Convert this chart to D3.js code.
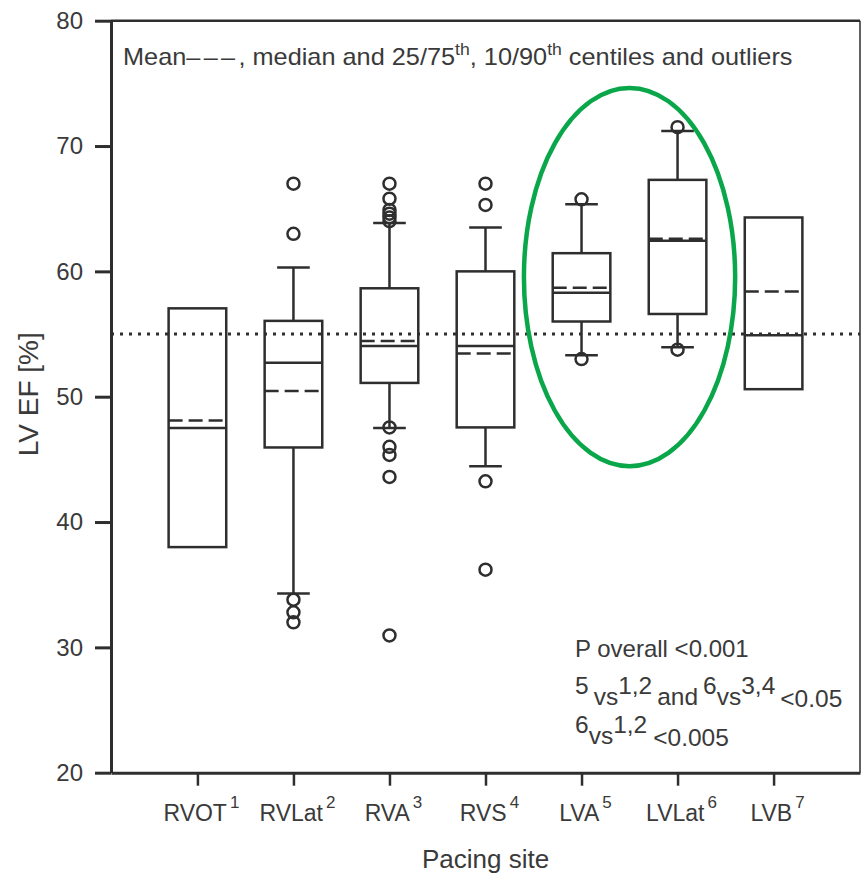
<!DOCTYPE html>
<html>
<head>
<meta charset="utf-8">
<script src="https://cdn.jsdelivr.net/npm/d3@7"></script>
<style>
  html, body { margin: 0; padding: 0; background: #fff; }
  svg { display: block; font-family: "Liberation Sans", Arial, Helvetica, sans-serif; }
</style>
</head>
<body>
<svg id="chart" width="862" height="880"></svg>
<script>
// ---- data ----
const sites    = ["RVOT", "RVLat", "RVA", "RVS", "LVA", "LVLat", "LVB"];
const siteSup  = ["1", "2", "3", "4", "5", "6", "7"];
const q1       = [38.0, 45.95, 51.1, 47.55, 56.0, 56.6, 50.6];
const q3       = [57.05, 56.05, 58.65, 60.0, 61.45, 67.3, 64.3];
const medians  = [47.5, 52.7, 54.05, 54.05, 58.3, 62.45, 54.9];
const means    = [48.1, 50.45, 54.45, 53.45, 58.7, 62.6, 58.4];
const p10      = [null, 34.3, 47.5, 44.45, 53.3, 53.95, null];
const p90      = [null, 60.3, 63.85, 63.5, 65.35, 71.2, null];
const outliers = [
  [],
  [67.0, 63.0, 33.8, 32.8, 32.0],
  [67.0, 65.8, 64.9, 64.6, 64.3, 64.0, 47.55, 46.0, 45.35, 43.6, 30.95],
  [67.0, 65.3, 43.25, 36.2],
  [65.75, 53.0],
  [71.5, 53.75],
  []
];
const yTicks   = [20, 30, 40, 50, 60, 70, 80];
const refLine  = 55;
const highlight = { from: "LVA", to: "LVLat", top: 74.63, bottom: 44.46 };

// ---- layout ----
const L = 111, R = 860, T = 20.7, B = 772.7;
const ink = "#2e2e2e", txt = "#3a3a3a";
const svg = d3.select("#chart");

const x = d3.scalePoint().domain(sites).range([L, R]).padding(0.9);
const y = d3.scaleLinear().domain([20, 80]).range([B, T]);
const step = x.step();
const boxW = step * 0.6, capW = step * 0.34;

// frame: top and right
svg.append("line").attr("x1", L).attr("x2", R).attr("y1", y(80)).attr("y2", y(80))
  .attr("stroke", ink).attr("stroke-width", 2.5);
svg.append("line").attr("x1", R).attr("x2", R).attr("y1", y(80)).attr("y2", y(20))
  .attr("stroke", ink).attr("stroke-width", 1.5);

// y axis
const gy = svg.append("g").attr("transform", `translate(${L},0)`)
  .call(d3.axisLeft(y).tickValues(yTicks).tickSize(16).tickSizeOuter(0).tickPadding(12));
gy.select(".domain").attr("stroke", ink).attr("stroke-width", 3);
gy.selectAll(".tick line").attr("stroke", ink).attr("stroke-width", 3);
gy.selectAll(".tick text").attr("font-size", 24).attr("fill", txt)
  .attr("font-family", "Liberation Sans, Arial, sans-serif");

// x axis
const gx = svg.append("g").attr("transform", `translate(0,${B})`)
  .call(d3.axisBottom(x).tickSize(13).tickSizeOuter(0).tickFormat(""));
gx.select(".domain").attr("stroke", ink).attr("stroke-width", 3);
gx.selectAll(".tick line").attr("stroke", ink).attr("stroke-width", 2.5);

// x tick labels with superscripts
const xl = svg.append("g").selectAll("text").data(sites).join("text")
  .attr("x", d => x(d) + 4).attr("y", B + 48)
  .attr("text-anchor", "middle").attr("font-size", 23).attr("fill", txt);
xl.append("tspan").text(d => d);
xl.append("tspan").attr("font-size", 17).attr("dy", -13).attr("dx", 3)
  .text((d, i) => siteSup[i]);

// axis titles
svg.append("text").attr("x", (L + R) / 2).attr("y", 868).attr("text-anchor", "middle")
  .attr("font-size", 26).attr("fill", txt).text("Pacing site");
svg.append("text").attr("transform", `translate(38,${y(50.2)}) rotate(-90)`)
  .attr("text-anchor", "middle").attr("font-size", 28).attr("fill", txt).text("LV EF [%]");

// reference dotted line
svg.append("line").attr("x1", L).attr("x2", R).attr("y1", y(refLine)).attr("y2", y(refLine))
  .attr("stroke", ink).attr("stroke-width", 3).attr("stroke-dasharray", "3,6");

// boxes
sites.forEach((s, i) => {
  const g = svg.append("g");
  const cx = x(s);
  if (p90[i] != null) {
    g.append("line").attr("x1", cx).attr("x2", cx).attr("y1", y(q3[i])).attr("y2", y(p90[i]))
      .attr("stroke", ink).attr("stroke-width", 2.5);
    g.append("line").attr("x1", cx - capW / 2).attr("x2", cx + capW / 2).attr("y1", y(p90[i])).attr("y2", y(p90[i]))
      .attr("stroke", ink).attr("stroke-width", 2.5);
  }
  if (p10[i] != null) {
    g.append("line").attr("x1", cx).attr("x2", cx).attr("y1", y(q1[i])).attr("y2", y(p10[i]))
      .attr("stroke", ink).attr("stroke-width", 2.5);
    g.append("line").attr("x1", cx - capW / 2).attr("x2", cx + capW / 2).attr("y1", y(p10[i])).attr("y2", y(p10[i]))
      .attr("stroke", ink).attr("stroke-width", 2.5);
  }
  g.append("rect").attr("x", cx - boxW / 2).attr("width", boxW)
    .attr("y", y(q3[i])).attr("height", y(q1[i]) - y(q3[i]))
    .attr("fill", "none").attr("stroke", ink).attr("stroke-width", 2.5);
  g.append("line").attr("x1", cx - boxW / 2).attr("x2", cx + boxW / 2)
    .attr("y1", y(medians[i])).attr("y2", y(medians[i]))
    .attr("stroke", ink).attr("stroke-width", 2.5);
  g.append("line").attr("x1", cx - boxW / 2).attr("x2", cx + boxW / 2)
    .attr("y1", y(means[i])).attr("y2", y(means[i]))
    .attr("stroke", ink).attr("stroke-width", 2.5).attr("stroke-dasharray", "14,6");
  g.selectAll("circle").data(outliers[i]).join("circle")
    .attr("cx", cx).attr("cy", d => y(d)).attr("r", 6)
    .attr("fill", "none").attr("stroke", ink).attr("stroke-width", 2.5);
});

// top annotation
const note = svg.append("text").attr("x", 123).attr("y", 65).attr("font-size", 23).attr("fill", txt);
note.append("tspan").text("Mean");
note.append("tspan").attr("letter-spacing", 3).text("\u2013\u2013\u2013");
note.append("tspan").text(", median and 25/75");
note.append("tspan").attr("font-size", 16).attr("dy", -10).text("th");
note.append("tspan").attr("dy", 10).text(", 10/90");
note.append("tspan").attr("font-size", 16).attr("dy", -10).text("th");
note.append("tspan").attr("dy", 10).text(" centiles and outliers");
const nw = note.node().getComputedTextLength();
note.attr("transform", `translate(123,0) scale(${670 / nw},1) translate(-123,0)`);

// p-value annotations
const pa = svg.append("g").attr("fill", txt).attr("font-size", 24.5);
pa.append("text").attr("x", 575).attr("y", 657).attr("font-size", 24).text("P overall <0.001");
const l2 = pa.append("text").attr("x", 575).attr("y", 694);
l2.append("tspan").text("5");
l2.append("tspan").attr("dx", 5).attr("dy", 11).text("vs");
l2.append("tspan").attr("dy", -11).text("1,2");
l2.append("tspan").attr("dx", 5).attr("dy", 11).text("and");
l2.append("tspan").attr("dx", 5).attr("dy", -11).text("6");
l2.append("tspan").attr("dy", 11).text("vs");
l2.append("tspan").attr("dy", -11).text("3,4");
l2.append("tspan").attr("dx", 5).attr("dy", 13).text("<0.05");
const l3 = pa.append("text").attr("x", 575).attr("y", 733);
l3.append("tspan").text("6");
l3.append("tspan").attr("dy", 11).text("vs");
l3.append("tspan").attr("dy", -11).text("1,2");
l3.append("tspan").attr("dx", 6).attr("dy", 13).text("<0.005");

// green highlight ellipse
svg.append("ellipse")
  .attr("cx", (x(highlight.from) + x(highlight.to)) / 2)
  .attr("cy", (y(highlight.top) + y(highlight.bottom)) / 2)
  .attr("rx", step * 1.1)
  .attr("ry", (y(highlight.bottom) - y(highlight.top)) / 2)
  .attr("fill", "none").attr("stroke", "#0aa64a").attr("stroke-width", 4.5);
</script>
</body>
</html>
